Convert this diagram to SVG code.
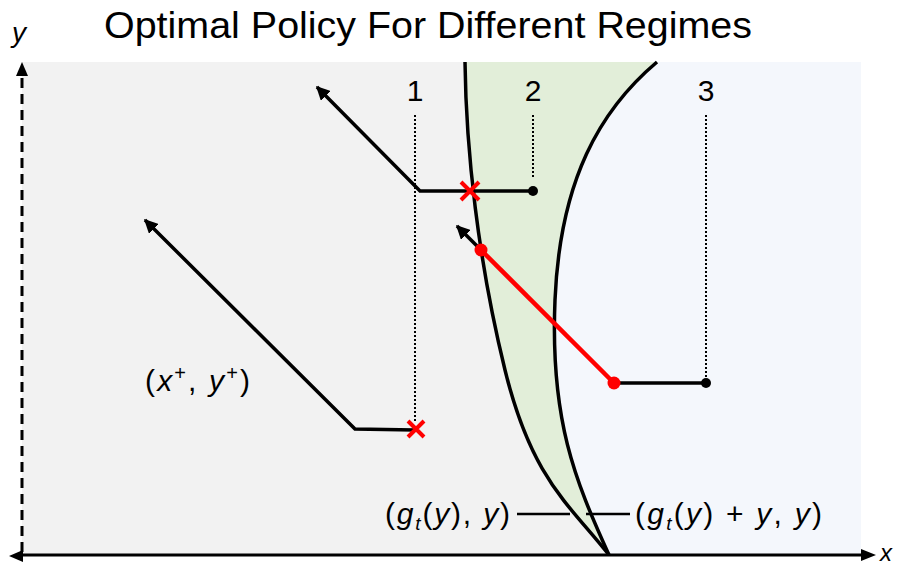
<svg xmlns="http://www.w3.org/2000/svg" width="906" height="567" viewBox="0 0 906 567">
<style>
.t{font-family:"Liberation Sans","DejaVu Sans",sans-serif;fill:#000}
.i{font-style:italic}
.ln{stroke:#000;stroke-width:3.5;fill:none}
.dot{stroke:#000;stroke-width:2;stroke-dasharray:2 2;fill:none}
.red{stroke:#f00;stroke-width:4.5;fill:none}
.cur{stroke:#000;stroke-width:3.5;fill:none}
.x{stroke:#f00;stroke-width:4;fill:none}
</style>
<defs>
<marker id="ah" viewBox="0 0 10 10" refX="9" refY="5" markerWidth="4" markerHeight="4" orient="auto" markerUnits="strokeWidth">
<path d="M0,0 L10,5 L0,10 z" fill="#000"/>
</marker>
</defs>
<rect width="906" height="567" fill="#fff"/>
<g id="regions">
<rect x="22" y="62" width="839" height="493" fill="#f4f7fc"/>
<path d="M22,62 L465,62 C466,150 478,260 505,370 S570,505 609,555 L22,555 Z" fill="#f2f2f2"/>
<path d="M465,62 C466,150 478,260 505,370 S570,505 609,555 C575,480 550,420 555,300 C560,180 600,110 657,62 Z" fill="#e2eed9"/>
<path class="cur" d="M465,62 C466,150 478,260 505,370 S570,505 609,555"/>
<path class="cur" d="M609,555 C575,480 550,420 555,300 C560,180 600,110 657,62"/>
</g>
<g id="axes">
<line x1="22" y1="552" x2="22" y2="74" stroke="#000" stroke-width="3" stroke-dasharray="10 6"/>
<path d="M22,62 L16,76 L28,76 Z" fill="#000"/>
<line x1="22" y1="555" x2="863" y2="555" stroke="#000" stroke-width="3"/>
<path d="M876,555 L861,549 L861,561 Z" fill="#000"/>
<path d="M9,556 L23,550 L23,562 Z" fill="#000"/>
<text class="t i" x="12" y="42" font-size="28">y</text>
<text class="t i" x="880" y="561" font-size="24">x</text>
</g>
<text class="t" x="104" y="38" font-size="37" textLength="648" lengthAdjust="spacingAndGlyphs">Optimal Policy For Different Regimes</text>
<g id="labels">
<text class="t" x="415" y="101" font-size="30" text-anchor="middle">1</text>
<text class="t" x="533" y="101" font-size="30" text-anchor="middle">2</text>
<text class="t" x="706" y="101" font-size="30" text-anchor="middle">3</text>
<text class="t" x="145" y="391" font-size="30" textLength="105">(<tspan class="i">x</tspan><tspan font-size="20" dy="-11">+</tspan><tspan dy="11">, </tspan><tspan class="i">y</tspan><tspan font-size="20" dy="-11">+</tspan><tspan dy="11">)</tspan></text>
<text class="t" x="385" y="524" font-size="30" textLength="125">(<tspan class="i">g</tspan><tspan class="i" font-size="19" dy="6">t</tspan><tspan dy="-6">(</tspan><tspan class="i">y</tspan>), <tspan class="i">y</tspan>)</text>
<text class="t" x="635" y="524" font-size="30" textLength="187">(<tspan class="i">g</tspan><tspan class="i" font-size="19" dy="6">t</tspan><tspan dy="-6">(</tspan><tspan class="i">y</tspan>) + <tspan class="i">y</tspan>, <tspan class="i">y</tspan>)</text>
</g>
<g id="connectors">
<line class="dot" x1="415" y1="115" x2="415" y2="422"/>
<line class="dot" x1="533" y1="115" x2="533" y2="178"/>
<line class="dot" x1="706" y1="115" x2="706" y2="377"/>
<line x1="517" y1="514" x2="570" y2="514" stroke="#000" stroke-width="2.5"/>
<line x1="586" y1="514" x2="630" y2="514" stroke="#000" stroke-width="2.5"/>
</g>
<g id="path1">
<polyline class="ln" points="415,430 355,429 145,220" marker-end="url(#ah)"/>
<path class="x" d="M408,421 L424,437 M424,421 L408,437"/>
</g>
<g id="path2">
<polyline class="ln" points="533,191 420,191 317,87" marker-end="url(#ah)"/>
<circle cx="533" cy="191" r="5" fill="#000"/>
<path class="x" d="M461,182 L479,200 M479,182 L461,200"/>
</g>
<g id="path3">
<line class="ln" x1="706" y1="383" x2="614" y2="383"/>
<line class="ln" x1="481" y1="250" x2="457" y2="226" marker-end="url(#ah)"/>
<line class="red" x1="614" y1="383" x2="481" y2="250"/>
<circle cx="706" cy="383" r="5" fill="#000"/>
<circle cx="614" cy="383" r="6.5" fill="#f00"/>
<circle cx="481" cy="250" r="6.5" fill="#f00"/>
</g>
</svg>
